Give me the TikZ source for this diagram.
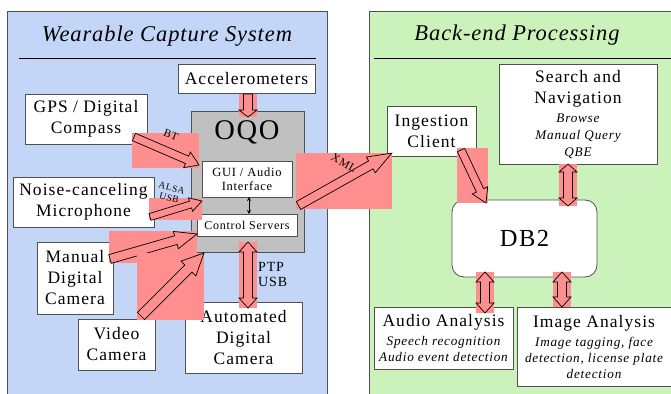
\documentclass[tikz,border=0pt]{standalone}
\usepackage{fontspec}
\setmainfont{Liberation Serif}[LetterSpace=6]
\newfontfamily\titlefont{Liberation Serif}[LetterSpace=4]
\usetikzlibrary{calc,arrows.meta}
\definecolor{panelblue}{RGB}{196,214,247}
\definecolor{panelgreen}{RGB}{204,242,188}
\definecolor{arrowpink}{RGB}{255,143,143}
\definecolor{oqogray}{RGB}{192,192,192}
\definecolor{edgegray}{RGB}{80,80,80}

% single block arrow: style, tail, tip, shaft half width, head half width, head length
\newcommand\sarrow[6]{%
  \path[#1] let \p1=(#2), \p2=(#3), \n1={atan2(\y2-\y1,\x2-\x1)}, \n2={veclen(\x2-\x1,\y2-\y1)} in
    [shift={(\p1)}, rotate=\n1]
    (0,#4) -- ({\n2-#6},#4) -- ({\n2-#6},#5) -- (\n2,0) -- ({\n2-#6},-#5) -- ({\n2-#6},-#4) -- (0,-#4) -- cycle;}
% double block arrow
\newcommand\darrow[6]{%
  \path[#1] let \p1=(#2), \p2=(#3), \n1={atan2(\y2-\y1,\x2-\x1)}, \n2={veclen(\x2-\x1,\y2-\y1)} in
    [shift={(\p1)}, rotate=\n1]
    (0,0) -- (#6,#5) -- (#6,#4) -- ({\n2-#6},#4) -- ({\n2-#6},#5) -- (\n2,0) -- ({\n2-#6},-#5) -- ({\n2-#6},-#4) -- (#6,-#4) -- (#6,-#5) -- cycle;}
% pink bounding rectangles
\newcommand\spink[5]{%
  \fill[arrowpink] let \p1=(#1), \p2=(#2), \n1={atan2(\y2-\y1,\x2-\x1)},
    \n3={cos(\n1)}, \n4={sin(\n1)}, \n5={abs(\n4)}, \n6={abs(\n3)},
    \n{a}={min(\x1-#3*\n5, \x2, \x2-#5*\n3-#4*\n5)},
    \n{b}={max(\x1+#3*\n5, \x2, \x2-#5*\n3+#4*\n5)},
    \n{c}={min(\y1-#3*\n6, \y2, \y2-#5*\n4-#4*\n6)},
    \n{d}={max(\y1+#3*\n6, \y2, \y2-#5*\n4+#4*\n6)} in
    (\n{a},\n{c}) rectangle (\n{b},\n{d});}
\newcommand\dpink[5]{%
  \fill[arrowpink] let \p1=(#1), \p2=(#2), \n1={atan2(\y2-\y1,\x2-\x1)},
    \n3={cos(\n1)}, \n4={sin(\n1)}, \n5={abs(\n4)}, \n6={abs(\n3)},
    \n{a}={min(\x1, \x2, \x1+#5*\n3-#4*\n5, \x2-#5*\n3-#4*\n5)},
    \n{b}={max(\x1, \x2, \x1+#5*\n3+#4*\n5, \x2-#5*\n3+#4*\n5)},
    \n{c}={min(\y1, \y2, \y1+#5*\n4-#4*\n6, \y2-#5*\n4-#4*\n6)},
    \n{d}={max(\y1, \y2, \y1+#5*\n4+#4*\n6, \y2-#5*\n4+#4*\n6)} in
    (\n{a},\n{c}) rectangle (\n{b},\n{d});}
\newcommand\pinksingle[5]{\spink{#1}{#2}{#3}{#4}{#5}\sarrow{blockline}{#1}{#2}{#3}{#4}{#5}}
\newcommand\pinkdouble[5]{\dpink{#1}{#2}{#3}{#4}{#5}\darrow{blockline}{#1}{#2}{#3}{#4}{#5}}

\begin{document}
\begin{tikzpicture}[x=1pt,y=-1pt,
  box/.style={draw=edgegray, fill=white, line width=0.8pt, align=center, inner sep=0pt,
              font=\fontsize{17.5}{21}\selectfont},
  blockline/.style={draw=black, line width=0.7pt},
  lab/.style={inner sep=0pt},
  title/.style={inner sep=0pt, font=\titlefont\fontsize{22.5}{26}\selectfont\itshape}]
\clip (0,0) rectangle (671,393);
\fill[white] (0,0) rectangle (671,393);
\newcommand\subf{\fontsize{13.2}{15}\selectfont\itshape}

% panels
\draw[fill=panelblue, draw=edgegray, line width=0.8pt] (7,11) rectangle (327,400);
\draw[fill=panelgreen, draw=edgegray, line width=0.8pt] (369,11) rectangle (680,400);
\node[title] (ltitle) at (167,36) {Wearable Capture System};
\node[title] (rtitle) at (517,35) {Back-end Processing};
\draw[line width=0.8pt] (19,58) -- (316,58);
\draw[line width=0.8pt] (374,58) -- (671,58);

% left boxes
\node[box, minimum width=137pt, minimum height=29pt] (acc) at (246.5,78.5) {Accelerometers};
\node[box, minimum width=122pt, minimum height=50pt] (gps) at (86,119) {GPS / Digital\\Compass};
\node[box, fill=oqogray, minimum width=113pt, minimum height=141pt] (oqo) at (247.5,181.5) {};
\node[lab, font=\fontsize{28.5}{30}\selectfont] (oqotxt) at (247,132) {OQO};
\node[box, minimum width=90pt, minimum height=36pt, font=\fontsize{12.5}{14}\selectfont] (gui) at (247,179) {GUI / Audio\\Interface};
\node[box, minimum width=100pt, minimum height=22pt, font=\fontsize{12}{13}\selectfont] (ctrl) at (247,225) {Control Servers};
\node[box, minimum width=141pt, minimum height=50pt] (mic) at (83.5,202) {Noise-canceling\\Microphone};
\node[box, minimum width=76pt, minimum height=72pt] (manual) at (75,278) {Manual\\Digital\\Camera};
\node[box, minimum width=77pt, minimum height=51pt] (video) at (116.5,344.5) {Video\\Camera};
\node[box, minimum width=117pt, minimum height=71pt] (auto) at (243.5,337.5) {Automated\\Digital\\Camera};
\draw[{Stealth[length=4pt,width=4pt]}-{Stealth[length=4pt,width=4pt]}, line width=1pt] (249,197) -- (249,214);

% right boxes
\node[box, minimum width=89pt, minimum height=50pt] (ingest) at (431.5,131) {Ingestion\\Client};
\node[box, minimum width=158pt, minimum height=100pt] (search) at (578,114)
  {Search and\\Navigation\\[-2pt]{\subf Browse}\\[-4pt]{\subf Manual Query}\\[-4pt]{\subf QBE}};
\node[box, rounded corners=12pt, minimum width=145pt, minimum height=77pt, font=\fontsize{24.5}{28}\selectfont] (db2) at (524.5,238.5) {DB2};
\node[box, minimum width=139pt, minimum height=62pt] (audio) at (443.5,338)
  {Audio Analysis\\[-2pt]{\subf Speech recognition}\\[-5pt]{\subf Audio event detection}};
\node[box, minimum width=154pt, minimum height=79pt] (image) at (594,346.5)
  {Image Analysis\\[-2pt]{\subf Image tagging, face}\\[-5pt]{\subf detection, license plate}\\[-5pt]{\subf detection}};

% arrow end points
\coordinate (accT) at (248,94);   \coordinate (accH) at (248,117);
\coordinate (btT) at (134,137);   \coordinate (btH) at (199,165);
\coordinate (alT) at (150,217);   \coordinate (alH) at (202,201);
\coordinate (maT) at (110,259);   \coordinate (maH) at (197,234);
\coordinate (viT) at (141,316);   \coordinate (viH) at (204,253);
\coordinate (ptT) at (248,242);   \coordinate (ptH) at (248,308);
\coordinate (xmT) at (298.5,205.5); \coordinate (xmH) at (392,153);
\coordinate (inT) at (461,150);   \coordinate (inH) at (486,203);
\coordinate (srT) at (568,164);   \coordinate (srH) at (568,206);
\coordinate (auT) at (485,272);   \coordinate (auH) at (485,313);
\coordinate (imT) at (562,272);   \coordinate (imH) at (562,307);

\pinksingle{accT}{accH}{4.5}{9}{7}
\pinksingle{btT}{btH}{4}{8.5}{13}
\pinksingle{alT}{alH}{3.5}{7}{12}
\pinksingle{maT}{maH}{4.5}{9}{22}
\pinksingle{viT}{viH}{5}{10.5}{22}
\pinkdouble{ptT}{ptH}{4.5}{9}{10}
\pinksingle{xmT}{xmH}{4.5}{9}{24}
\pinksingle{inT}{inH}{4}{8.5}{14}
\pinkdouble{srT}{srH}{4.5}{9}{8}
\pinkdouble{auT}{auH}{4.5}{9}{10}
\pinkdouble{imT}{imH}{4.5}{9}{10}

% connector labels
\node[lab, rotate=-22, font=\fontsize{11}{12}\selectfont] (btlab) at (171,135) {BT};
\node[lab, rotate=-15, align=center, font=\fontsize{9.5}{10}\selectfont] (alsalab) at (170.5,193) {ALSA\\USB};
\node[lab, anchor=west, align=left, font=\fontsize{14}{15}\selectfont] (ptplab) at (258,274) {PTP\\USB};
\node[lab, rotate=-29, font=\fontsize{11.5}{12}\selectfont] (xmllab) at (344,163) {XML};
\end{tikzpicture}
\end{document}
